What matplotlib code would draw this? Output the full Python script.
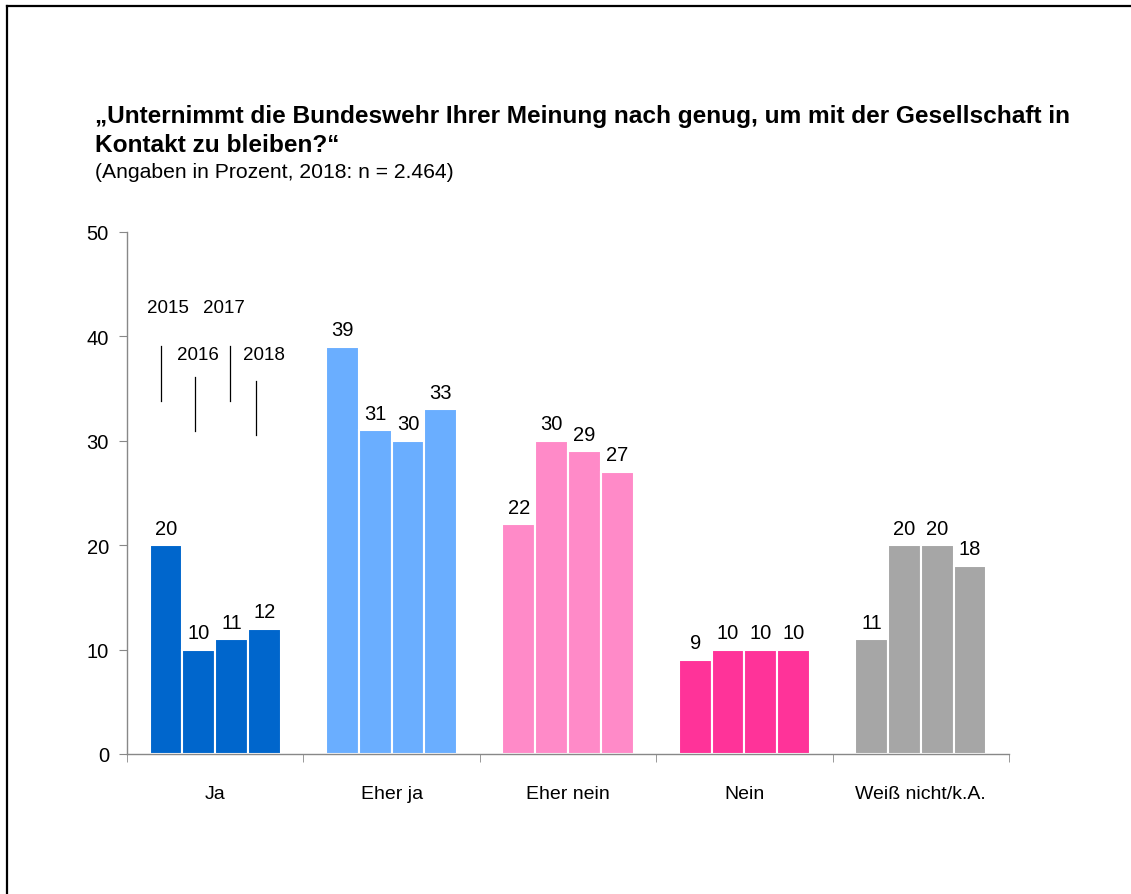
import matplotlib
matplotlib.use("Agg")
import matplotlib.pyplot as plt
from matplotlib.lines import Line2D
import numpy as np

plt.rcParams['font.family'] = ['Liberation Sans', 'DejaVu Sans']

categories = ["Ja", "Eher ja", "Eher nein", "Nein", "Weiß nicht/k.A."]
years = ["2015", "2016", "2017", "2018"]
values = {
    "2015": [20, 39, 22, 9, 11],
    "2016": [10, 31, 30, 10, 20],
    "2017": [11, 30, 29, 10, 20],
    "2018": [12, 33, 27, 10, 18],
}
colors = ["#0066CC", "#6AAEFF", "#FF8AC8", "#FF3399", "#A6A6A6"]
title_lines = ["„Unternimmt die Bundeswehr Ihrer Meinung nach genug, um mit der Gesellschaft in",
               "Kontakt zu bleiben?“"]
subtitle = "(Angaben in Prozent, 2018: n = 2.464)"

fig = plt.figure(figsize=(11.31, 8.95), dpi=100)
ax = fig.add_axes([127/1131, 1-755/895, 882/1131, 522/895])

x = np.arange(len(categories))
w = 0.186
for i, y in enumerate(years):
    offs = (i - 1.5) * w
    ax.bar(x + offs, values[y], width=w, color=colors, edgecolor="white", linewidth=1.5)
    for xi, v in zip(x + offs, values[y]):
        ax.annotate(str(v), (xi, v), xytext=(0, 5.5), textcoords="offset points",
                    ha="center", va="bottom", fontsize=14.5)

ax.set_xlim(-0.5, 4.5)
ax.set_ylim(0, 50)
ax.set_yticks([0, 10, 20, 30, 40, 50])
ax.tick_params(axis='y', labelsize=14.5, length=6, color="#888888", pad=7, direction='out')
ax.set_xticks(x)
ax.set_xticklabels(categories, fontsize=14)
ax.tick_params(axis='x', which='major', length=0, pad=22)
ax.set_xticks(np.arange(-0.5, 5, 1), minor=True)
ax.tick_params(axis='x', which='minor', length=6, color="#888888", direction='out')
for s in ["top", "right"]:
    ax.spines[s].set_visible(False)
for s in ["left", "bottom"]:
    ax.spines[s].set_color("#888888")
    ax.spines[s].set_linewidth(1.0)

# year annotation (legend-like) above Ja group
year_text_pos = [(-0.266, 42.8), (-0.096, 38.3), (0.051, 42.8), (0.278, 38.3)]
year_line_pos = [(-0.306, 33.8, 39.1), (-0.113, 30.9, 36.1), (0.085, 33.8, 39.1), (0.232, 30.6, 35.7)]
for yr, (tx, ty), (lx, ly0, ly1) in zip(years, year_text_pos, year_line_pos):
    ax.text(tx, ty, yr, ha="center", va="center", fontsize=13.5)
    ax.plot([lx, lx], [ly0, ly1], color="black", linewidth=0.9)

fig.text(95/1131, 1-117/895, title_lines[0], ha="left", va="center", fontsize=17.6, fontweight="bold")
fig.text(95/1131, 1-145/895, title_lines[1], ha="left", va="center", fontsize=17.6, fontweight="bold")
fig.text(95/1131, 1-173/895, subtitle, ha="left", va="center", fontsize=15.2)

# partial frame (left and top edges)
fig.add_artist(Line2D([7/1131, 7/1131], [0, 1-7/895], color="black", linewidth=1.6, transform=fig.transFigure))
fig.add_artist(Line2D([7/1131, 1], [1-7/895, 1-7/895], color="black", linewidth=1.6, transform=fig.transFigure))

fig.savefig("out.png", dpi=100)
